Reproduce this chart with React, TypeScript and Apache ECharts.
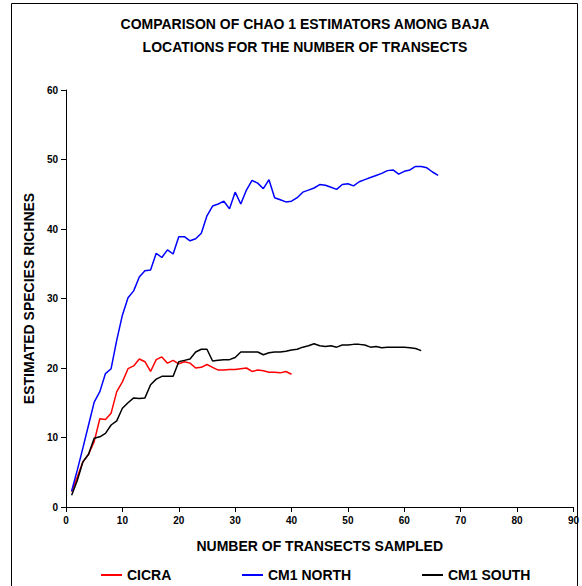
import React, { useEffect, useRef } from "react";
import * as echarts from "echarts";

const titleLines = [
  "COMPARISON OF CHAO 1 ESTIMATORS AMONG BAJA",
  "LOCATIONS FOR THE NUMBER OF TRANSECTS",
];
const xAxisName = "NUMBER OF TRANSECTS SAMPLED";
const yAxisName = "ESTIMATED SPECIES RICHNES";
const seriesNames = ["CICRA", "CM1 NORTH", "CM1 SOUTH"];
const seriesColors = ["#ff0000", "#0000ff", "#000000"];

const cicra = [
  2.2, 4.3, 6.5, 7.6, 9.4, 12.7, 12.6, 13.5, 16.6, 18.0,
  19.9, 20.3, 21.3, 20.9, 19.5, 21.2, 21.6, 20.7, 21.1, 20.6,
  20.9, 20.7, 20.0, 20.1, 20.5, 20.1, 19.7, 19.7, 19.8, 19.8,
  19.9, 20.0, 19.5, 19.7, 19.6, 19.4, 19.4, 19.3, 19.5, 19.1,
];
const cm1North = [
  2.3, 5.3, 8.5, 11.8, 15.1, 16.6, 19.2, 19.9, 24.0, 27.6,
  30.1, 31.1, 33.1, 34.0, 34.1, 36.5, 35.9, 37.0, 36.4, 38.9,
  38.9, 38.3, 38.6, 39.4, 41.9, 43.3, 43.6, 44.0, 42.9, 45.3,
  43.6, 45.6, 47.0, 46.6, 45.8, 47.1, 44.5, 44.2, 43.9, 44.0,
  44.5, 45.3, 45.6, 45.9, 46.4, 46.3, 46.0, 45.7, 46.4, 46.5,
  46.2, 46.8, 47.1, 47.4, 47.7, 48.0, 48.4, 48.5, 47.9, 48.3,
  48.5, 49.0, 49.0, 48.8, 48.2, 47.7,
];
const cm1South = [
  1.7, 3.8, 6.5, 7.6, 9.9, 10.1, 10.6, 11.8, 12.4, 14.2,
  15.0, 15.7, 15.6, 15.7, 17.6, 18.4, 18.8, 18.8, 18.8, 20.9,
  21.1, 21.3, 22.3, 22.7, 22.7, 21.0, 21.1, 21.2, 21.2, 21.5,
  22.3, 22.3, 22.3, 22.3, 21.9, 22.2, 22.3, 22.3, 22.4, 22.6,
  22.7, 23.0, 23.2, 23.5, 23.2, 23.1, 23.2, 23.0, 23.3, 23.3,
  23.4, 23.4, 23.3, 23.0, 23.1, 22.9, 23.0, 23.0, 23.0, 23.0,
  22.9, 22.8, 22.5,
];
const seriesValues = [cicra, cm1North, cm1South];

const FONT = "'Liberation Sans', Arial, sans-serif";

export default function App() {
  const ref = useRef<HTMLDivElement>(null);
  useEffect(() => {
    if (!ref.current) return;
    const chart = echarts.init(ref.current, null, { renderer: "svg" });
    const legendLefts = [101, 242, 422];
    const titleYs = [24, 47];
    chart.setOption({
      animation: false,
      backgroundColor: "#ffffff",
      textStyle: { fontFamily: FONT },
      graphic: [
        {
          type: "rect",
          shape: { x: 11.5, y: 3.5, width: 566, height: 640 },
          style: { fill: "none", stroke: "#000", lineWidth: 1 },
          silent: true,
        },
        ...titleLines.map((t, i) => ({
          type: "text",
          x: 305,
          y: titleYs[i],
          style: {
            text: t,
            fontFamily: FONT,
            fontWeight: "bold",
            fontSize: 14,
            fill: "#000",
            align: "center",
            verticalAlign: "middle",
          },
        })),
      ],
      legend: seriesNames.map((n, i) => ({
        data: [n],
        left: legendLefts[i],
        top: 568,
        padding: 0,
        icon: "rect",
        itemWidth: 21,
        itemHeight: 2,
        itemGap: 4,
        textStyle: { fontFamily: FONT, fontWeight: "bold", fontSize: 14, color: "#000" },
        selectedMode: false,
      })),
      grid: { left: 66, right: 8, top: 90, bottom: 79, containLabel: false },
      xAxis: {
        type: "value",
        min: 0,
        max: 90,
        interval: 10,
        name: xAxisName,
        nameLocation: "middle",
        nameGap: 32,
        nameTextStyle: { fontFamily: FONT, fontWeight: "bold", fontSize: 14, color: "#000" },
        axisLine: { show: true, onZero: false, lineStyle: { color: "#000", width: 1 } },
        axisTick: { show: true, length: 5, lineStyle: { color: "#000" } },
        axisLabel: { margin: 8, fontFamily: FONT, fontWeight: "bold", fontSize: 10, color: "#000" },
        splitLine: { show: false },
      },
      yAxis: {
        type: "value",
        min: 0,
        max: 60,
        interval: 10,
        name: yAxisName,
        nameLocation: "middle",
        nameGap: 28,
        nameRotate: 90,
        nameTextStyle: { fontFamily: FONT, fontWeight: "bold", fontSize: 14, color: "#000" },
        axisLine: { show: true, onZero: false, lineStyle: { color: "#000", width: 1 } },
        axisTick: { show: true, length: 5, lineStyle: { color: "#000" } },
        axisLabel: { margin: 8, fontFamily: FONT, fontWeight: "bold", fontSize: 10, color: "#000" },
        splitLine: { show: false },
      },
      series: seriesNames.map((n, i) => ({
        name: n,
        type: "line",
        symbol: "none",
        color: seriesColors[i],
        itemStyle: { color: seriesColors[i] },
        lineStyle: { color: seriesColors[i], width: 1.5 },
        data: seriesValues[i].map((v, k) => [k + 1, v]),
      })),
    });
    return () => chart.dispose();
  }, []);
  return (
    <div
      ref={ref}
      style={{ position: "absolute", left: 0, top: 0, width: 582, height: 586 }}
    />
  );
}
